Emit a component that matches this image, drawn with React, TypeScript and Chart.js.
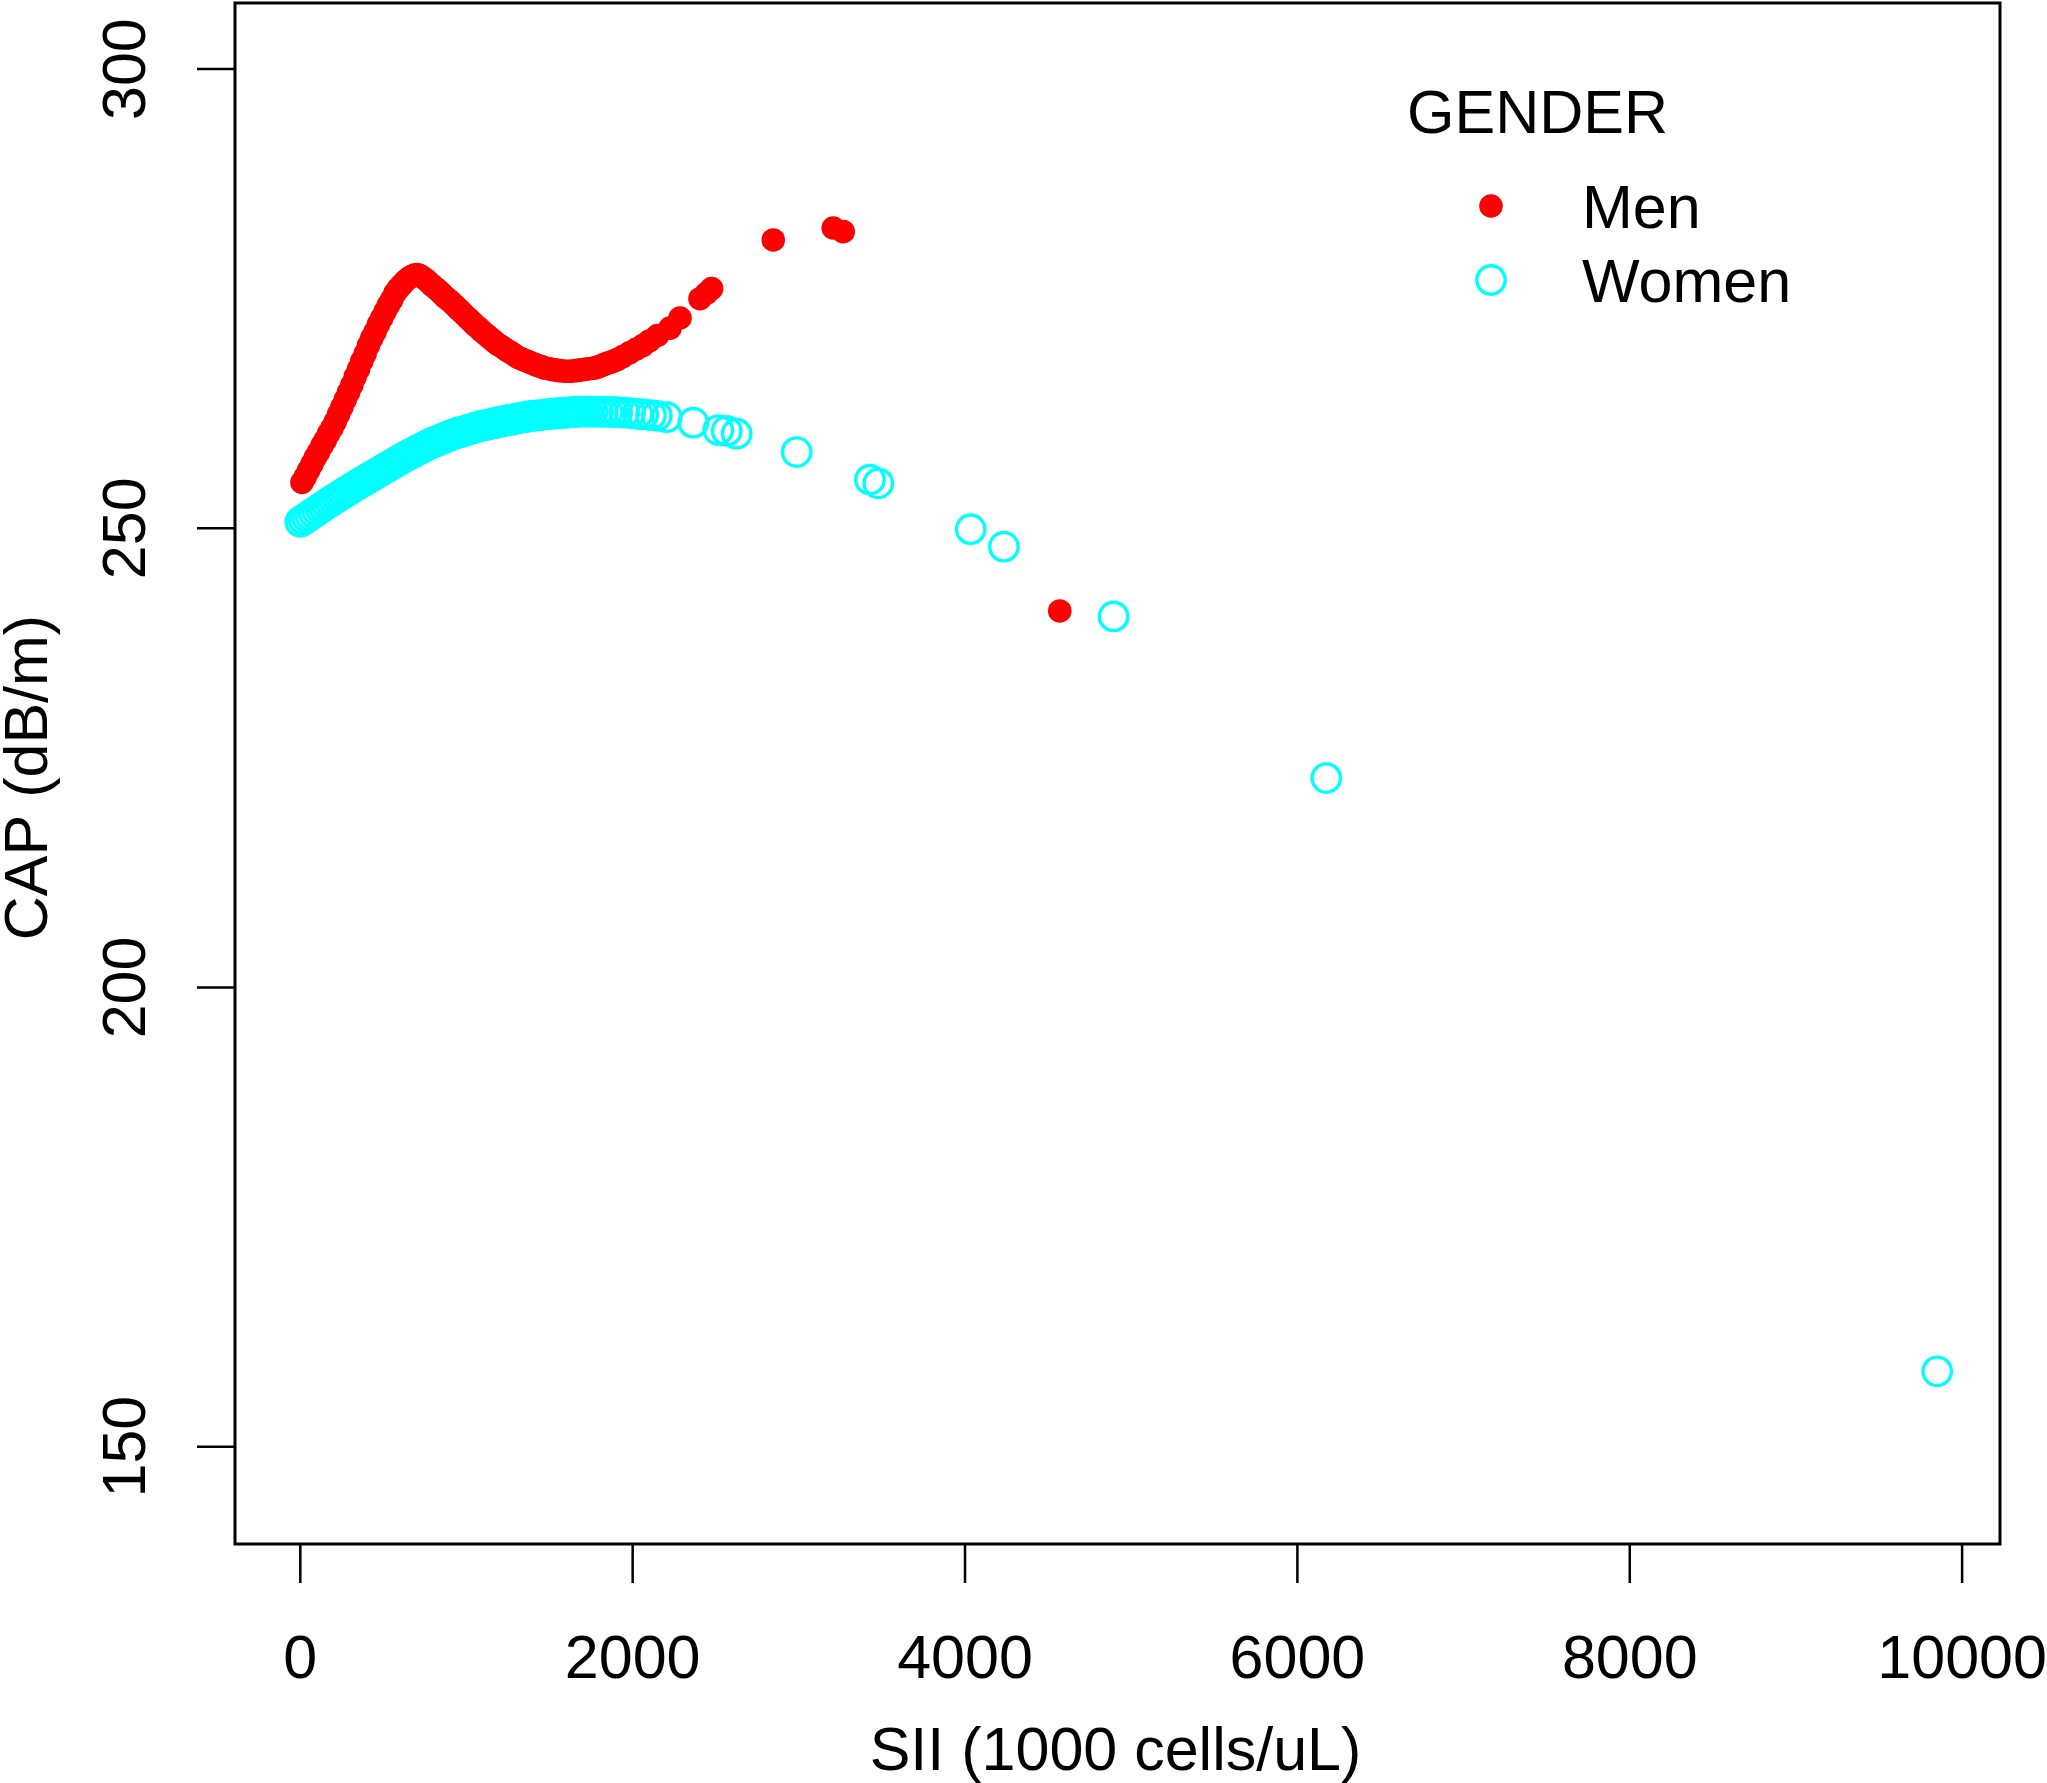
import { useEffect, useRef } from "react";
import { Chart, LinearScale, PointElement, ScatterController } from "chart.js";

Chart.register(ScatterController, PointElement, LinearScale);

const seriesLabels = ["Men", "Women"];
const legendTitle = "GENDER";
const xTitle = "SII (1000 cells/uL)";
const yTitle = "CAP (dB/m)";
const xTicks = [0, 2000, 4000, 6000, 8000, 10000];
const yTicks = [150, 200, 250, 300];

// men: filled red dots
const menSii = [
  10, 30, 50, 70, 90, 110, 130, 150, 170, 190,
  210, 230, 250, 270, 290, 310, 330, 350, 370, 390,
  410, 430, 450, 470, 490, 510, 530, 550, 570, 590,
  610, 630, 650, 670, 690, 710, 730, 750, 770, 790,
  810, 830, 850, 870, 890, 910, 930, 950, 970, 990,
  1010, 1030, 1050, 1070, 1090, 1110, 1130, 1150, 1170, 1190,
  1210, 1230, 1250, 1270, 1290, 1310, 1330, 1350, 1370, 1390,
  1410, 1430, 1450, 1470, 1490, 1510, 1530, 1550, 1570, 1590,
  1610, 1630, 1650, 1670, 1690, 1710, 1730, 1750, 1770, 1790,
  1810, 1830, 1850, 1870, 1890,
  1910, 1940, 1980, 2020, 2060, 2100, 2150, 2225, 2285, 2405,
  2445, 2475, 2846, 3207, 3267, 4570
];
const menCap = [
  255.0, 255.6, 256.3, 257.0, 257.7, 258.3, 259.0, 259.6, 260.3, 260.9,
  261.6, 262.4, 263.2, 264.0, 264.8, 265.6, 266.5, 267.3, 268.2, 269.0,
  269.9, 270.7, 271.4, 272.2, 272.9, 273.6, 274.3, 274.9, 275.6, 276.1,
  276.5, 276.9, 277.2, 277.45, 277.6, 277.6, 277.4, 277.15, 276.85, 276.5,
  276.2, 275.9, 275.55, 275.2, 274.9, 274.6, 274.25, 273.9, 273.55, 273.2,
  272.85, 272.5, 272.15, 271.85, 271.5, 271.2, 270.9, 270.6, 270.3, 270.0,
  269.8, 269.55, 269.3, 269.1, 268.85, 268.6, 268.45, 268.3, 268.15, 268.0,
  267.85, 267.7, 267.6, 267.45, 267.4, 267.3, 267.25, 267.2, 267.15, 267.1,
  267.1, 267.1, 267.15, 267.2, 267.25, 267.3, 267.35, 267.4, 267.45, 267.55,
  267.7, 267.85, 268.0, 268.1, 268.25,
  268.4, 268.7, 269.1, 269.5, 269.9, 270.4, 271.0, 271.8, 272.9, 275.0,
  275.6, 276.1, 281.4, 282.7, 282.3, 241.0
];

// women: open cyan circles
const womenSii = [
  0, 20, 40, 60, 80, 100, 120, 140, 160, 180, 200, 220, 240, 260, 280, 300, 320,
  340, 360, 380, 400, 420, 440, 460, 480, 500, 520, 540, 560, 580, 600, 620, 640,
  660, 680, 700, 720, 740, 760, 780, 800, 820, 840, 860, 880, 900, 920, 940, 960,
  980, 1000, 1020, 1040, 1060, 1080, 1100, 1120, 1140, 1160, 1180, 1200, 1220,
  1240, 1260, 1280, 1300, 1320, 1340, 1360, 1380, 1400, 1420, 1440, 1460, 1480,
  1500, 1520, 1540, 1560, 1580, 1600, 1620, 1640, 1660, 1680, 1700, 1730, 1760,
  1790, 1820, 1850, 1880, 1907, 1950, 1984, 2030, 2064, 2110, 2145, 2205, 2365,
  2515, 2566, 2626, 2987, 3428, 3478, 4034, 4234, 4894, 6174, 9850
];
const womenCap = [
  250.70, 250.94, 251.19, 251.43, 251.68, 251.92, 252.17, 252.41, 252.66, 252.90,
  253.13, 253.35, 253.58, 253.81, 254.03, 254.26, 254.49, 254.71, 254.92, 255.13,
  255.35, 255.56, 255.77, 255.99, 256.20, 256.41, 256.63, 256.84, 257.05, 257.27,
  257.48, 257.69, 257.89, 258.07, 258.26, 258.45, 258.63, 258.82, 259.01, 259.20,
  259.35, 259.49, 259.64, 259.79, 259.93, 260.08, 260.23, 260.35, 260.46, 260.56,
  260.67, 260.78, 260.89, 260.99, 261.10, 261.18, 261.26, 261.34, 261.42, 261.50,
  261.58, 261.66, 261.73, 261.80, 261.87, 261.93, 262.00, 262.07, 262.13, 262.20,
  262.24, 262.28, 262.32, 262.36, 262.40, 262.44, 262.48, 262.51, 262.53, 262.56,
  262.59, 262.61, 262.64, 262.67, 262.70, 262.70, 262.70, 262.69, 262.68, 262.68,
  262.67, 262.66, 262.64, 262.60, 262.55, 262.47, 262.40, 262.32, 262.25, 262.10,
  261.5, 260.7, 260.6, 260.3, 258.3, 255.3, 254.9, 249.9, 248.0, 240.4, 222.8,
  158.2
];

const FONT = '61px "Liberation Sans", Arial, Helvetica, sans-serif';

// R-style box, outward ticks, rotated y labels
const framePlugin = {
  id: "frame",
  afterDraw(chart: any) {
    const { ctx, chartArea: a, scales } = chart;
    const sx = scales.x;
    const sy = scales.y;
    ctx.save();
    ctx.strokeStyle = "#000";
    ctx.lineWidth = 3;
    ctx.strokeRect(a.left, a.top, a.right - a.left, a.bottom - a.top);

    ctx.lineWidth = 2.5;
    ctx.beginPath();
    for (const v of xTicks) {
      const px = sx.getPixelForValue(v);
      ctx.moveTo(px, a.bottom);
      ctx.lineTo(px, a.bottom + 39);
    }
    for (const v of yTicks) {
      const py = sy.getPixelForValue(v);
      ctx.moveTo(a.left, py);
      ctx.lineTo(a.left - 38, py);
    }
    ctx.stroke();

    ctx.fillStyle = "#000";
    ctx.font = FONT;
    ctx.textAlign = "center";
    ctx.textBaseline = "alphabetic";
    for (const v of xTicks) {
      ctx.fillText(String(v), sx.getPixelForValue(v), a.bottom + 134);
    }
    ctx.fillText(xTitle, (a.left + a.right) / 2 - 2, a.bottom + 226);

    for (const v of yTicks) {
      ctx.save();
      ctx.translate(a.left - 90, sy.getPixelForValue(v));
      ctx.rotate(-Math.PI / 2);
      ctx.fillText(String(v), 0, 0);
      ctx.restore();
    }
    ctx.save();
    ctx.translate(a.left - 188, (a.top + a.bottom) / 2 + 4);
    ctx.rotate(-Math.PI / 2);
    ctx.fillText(yTitle, 0, 0);
    ctx.restore();
    ctx.restore();
  }
};

// legend in the top-right corner of the plot
const legendPlugin = {
  id: "rLegend",
  afterDraw(chart: any) {
    const { ctx } = chart;
    ctx.save();
    ctx.font = FONT;
    ctx.fillStyle = "#000";
    ctx.textAlign = "left";
    ctx.textBaseline = "alphabetic";
    ctx.fillText(legendTitle, 1407, 133);
    chart.data.datasets.forEach((ds: any, i: number) => {
      const cy = 206 + i * 74;
      ctx.beginPath();
      ctx.arc(1491, cy, ds.pointRadius, 0, Math.PI * 2);
      if (ds.borderWidth > 0) {
        ctx.lineWidth = ds.borderWidth;
        ctx.strokeStyle = ds.borderColor;
        ctx.stroke();
      } else {
        ctx.fillStyle = ds.backgroundColor;
        ctx.fill();
      }
      ctx.fillStyle = "#000";
      ctx.fillText(ds.label, 1582, cy + 22);
    });
    ctx.restore();
  }
};

function ScatterPlot() {
  const canvasRef = useRef<HTMLCanvasElement | null>(null);

  useEffect(() => {
    const canvas = canvasRef.current;
    if (!canvas) return;

    const chart = new Chart(canvas, {
      type: "scatter",
      data: {
        datasets: [
          {
            label: seriesLabels[0],
            data: menSii.map((x, i) => ({ x, y: menCap[i] })),
            backgroundColor: "#ff0000",
            borderColor: "#ff0000",
            borderWidth: 0,
            pointRadius: 11.8,
            pointHoverRadius: 11.8
          },
          {
            label: seriesLabels[1],
            data: womenSii.map((x, i) => ({ x, y: womenCap[i] })),
            backgroundColor: "rgba(0,0,0,0)",
            borderColor: "#00ffff",
            borderWidth: 3.4,
            pointRadius: 14.2,
            pointHoverRadius: 14.2
          }
        ]
      },
      options: {
        animation: false,
        responsive: true,
        maintainAspectRatio: false,
        events: [],
        layout: { autoPadding: false, padding: { left: 235, top: 3, right: 47, bottom: 239 } },
        plugins: { legend: { display: false }, tooltip: { enabled: false } },
        scales: {
          x: { type: "linear", min: -393, max: 10228, display: false },
          y: { type: "linear", min: 139.4, max: 307.2, display: false }
        }
      },
      plugins: [framePlugin, legendPlugin]
    });

    return () => chart.destroy();
  }, []);

  return (
    <div style={{ position: "absolute", left: 0, top: 0, width: 2047, height: 1783, background: "#fff" }}>
      <canvas ref={canvasRef} />
    </div>
  );
}

export default function App() {
  return <ScatterPlot />;
}
